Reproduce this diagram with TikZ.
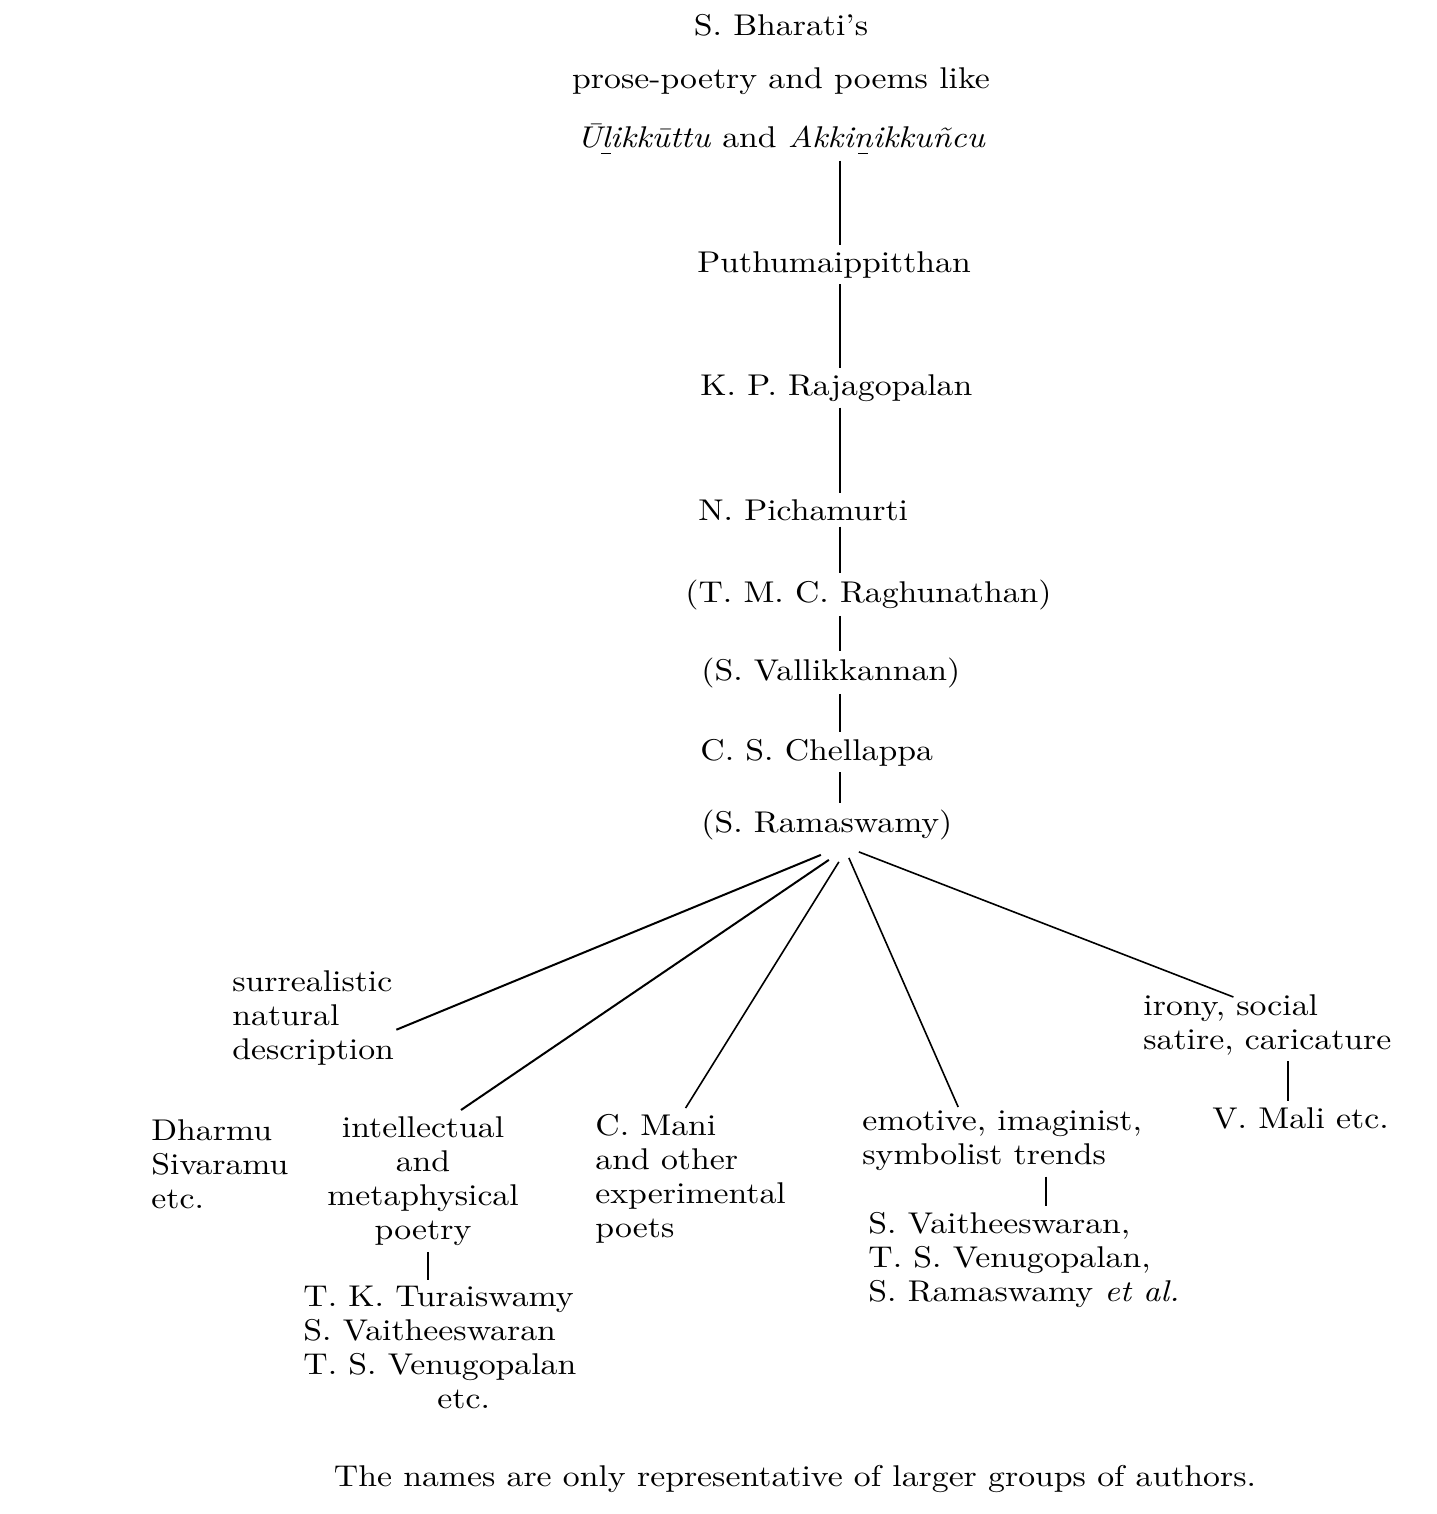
\documentclass[tikz,border=0pt]{standalone}
\usepackage{fontspec}
\setmainfont{lmroman10-regular.otf}[FakeStretch=1.125, ItalicFont=lmroman10-italic.otf, BoldFont=lmroman10-bold.otf, Ligatures=TeX]
\usepackage{tikz}
\usetikzlibrary{positioning}
\newcommand\treefont{\fontsize{15}{17}\selectfont}
\newcommand\lowbar[1]{\ooalign{#1\cr\hidewidth\raisebox{-0.22em}{\rule{0.32em}{0.05em}}\hidewidth\cr}}
\tikzset{
every node/.style={inner sep=3pt, font=\treefont}, % one serif size for every name
link/.style={line width=1pt}, % the joining strokes
thin link/.style={line width=0.8pt}, % the lighter strokes of the fan
group/.style={align=left, anchor=north west}, % blocks of several lines
}

\begin{document}
\begin{tikzpicture}[x=0.5pt, y=-0.5pt]
        \useasboundingbox (0,0) rectangle (1436,1514);
        \coordinate (stem) at (840,0);

        \node[anchor=north, align=center] (bharati) at (781,8) {S. Bharati's\\[9.5pt] prose-poetry and poems like\\[12.5pt] \textit{Ū\lowbar{l}ikkūttu} and \textit{Akki\lowbar{n}ikkuñcu}};
        \node[anchor=base west] (puthu) at (691,272) {Puthumaippitthan};
        \node[anchor=base west] (rajag) at (694,395) {K. P. Rajagopalan};
        \node[anchor=base west] (pich) at (692,520) {N. Pichamurti};
        \node[anchor=base west] (ragh) at (679,602) {(T. M. C. Raghunathan)};
        \node[anchor=base west] (valli) at (695,680) {(S. Vallikkannan)};
        \node[anchor=base west] (chell) at (694,760) {C. S. Chellappa};
        \node[anchor=base west] (rama) at (695,832) {(S. Ramaswamy)};

        \node[group] (surreal) at (226,964) {surrealistic\\ natural\\ description};
        \node[group] (dharmu) at (145,1113) {Dharmu\\ Sivaramu\\ etc.};
        \node[anchor=north, align=center] (intel) at (423,1110) {intellectual\\ and\\ metaphysical\\ poetry};
        \node[group] (turai) at (297,1280) {T. K. Turaiswamy\\ S. Vaitheeswaran\\ T. S. Venugopalan\\ \hspace*{67pt}etc.};
        \node[group] (mani) at (589,1108) {C. Mani\\ and other\\ experimental\\ poets};
        \node[group] (emot) at (856,1104) {emotive, imaginist,\\ symbolist trends};
        \node[group] (vait) at (862,1206) {S. Vaitheeswaran,\\ T. S. Venugopalan,\\ S. Ramaswamy \textit{et al.}};
        \node[group] (irony) at (1137,988) {irony, social\\ satire, caricature};
        \node[group] (mali) at (1206,1101) {V. Mali etc.};

        \node[anchor=base] (note) at (795,1486) {The names are only representative of larger groups of authors.};

        \draw[link] (bharati.south -| stem) -- (puthu.north -| stem);
        \draw[link] (puthu.south -| stem) -- (rajag.north -| stem);
        \draw[link] (rajag.south -| stem) -- (pich.north -| stem);
        \draw[link] (pich.south -| stem) -- (ragh.north -| stem);
        \draw[link] (ragh.south -| stem) -- (valli.north -| stem);
        \draw[link] (valli.south -| stem) -- (chell.north -| stem);
        \draw[link] (chell.south -| stem) -- (rama.north -| stem);

        \draw[link] ([xshift=-3pt,yshift=-4.5pt]rama.south) -- ([xshift=-2pt,yshift=-6pt]surreal.east);
        \draw[link] ([xshift=1pt,yshift=-7pt]rama.south) -- ([xshift=19pt]intel.north);
        \draw[thin link] ([xshift=6pt,yshift=-8pt]rama.south) -- ([xshift=-2.5pt]mani.north);
        \draw[thin link] ([xshift=11pt,yshift=-6pt]rama.south) -- ([xshift=-22pt,yshift=-1.5pt]emot.north);
        \draw[thin link] ([xshift=16pt,yshift=-3pt]rama.south) -- ([xshift=-17pt,yshift=-4.5pt]irony.north);

        \draw[link] ([xshift=2.5pt]intel.south) -- ([xshift=2.5pt]intel.south |- turai.north);
        \draw[link] ([xshift=22pt]emot.south) -- ([xshift=22pt]emot.south |- vait.north);
        \draw[link] ([xshift=10.5pt]irony.south) -- ([xshift=10.5pt]irony.south |- mali.north);
\end{tikzpicture}
\end{document}
